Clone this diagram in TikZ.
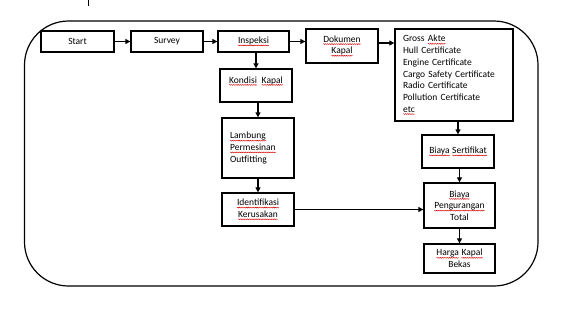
\documentclass[tikz,border=0pt]{standalone}
\usepackage{fontspec}
\setmainfont{Carlito}
\usetikzlibrary{arrows.meta,decorations.pathmorphing}
\newcommand\sq[1]{\tikz[baseline=(w.base),x=1cm,y=1cm,line width=0.4pt]{\node[shape=rectangle,draw=none,inner sep=0pt,outer sep=0pt,minimum width=0pt,minimum height=0pt,text width=,align=none,anchor=center](w){#1};
  \draw[red!85!black,line width=0.4pt,decorate,decoration={snake,amplitude=0.45pt,segment length=1.8pt}] ([yshift=-1.9pt]w.base west) -- ([yshift=-1.9pt]w.base east);}}
\begin{document}
\begin{tikzpicture}[x=1pt,y=-1pt,
  every node/.style={font=\fontsize{9.5}{11.7}\selectfont},
  box/.style={draw, line width=1.3pt, inner sep=0pt, align=center},
  arr/.style={line width=1.3pt, -{Triangle[length=5pt,width=5pt]}}]
\useasboundingbox (0,0) rectangle (567,308);
\draw[line width=0.6pt] (88,0) -- (88,6);
\draw[line width=1.2pt, rounded corners=44pt] (24.5,21) rectangle (538,286);
\node[box, minimum width=73, minimum height=21] (start) at (77.5,41.5) {Start};
\node[box, minimum width=72, minimum height=21] (surv) at (167,41.5) {Survey};
\node[box, minimum width=71, minimum height=21] (insp) at (253.5,41.5) {\sq{Inspeksi}};
\node[box, minimum width=72, minimum height=34] (dok) at (342,46) {\sq{Dokumen}\\\sq{Kapal}};
\node[box, minimum width=118, minimum height=92, align=left, text width=102, inner xsep=8] (gross) at (454,75)
  {Gross \sq{Akte}\\Hull Certificate\\Engine  Certificate\\Cargo Safety  Certificate\\Radio Certificate\\Pollution  Certificate\\\sq{etc}};
\node[box, minimum width=72, minimum height=33] (kond) at (256,85.5) {};
\node (kondt) at (256,81) {\sq{Kondisi}\ \ \sq{Kapal}};
\node[box, minimum width=72, minimum height=60, align=left, text width=56, inner xsep=8] (lamb) at (258,148) {\sq{Lambung}\\\sq{Permesinan}\\Outfitting};
\node[box, minimum width=72, minimum height=33] (ident) at (258,209.5) {\sq{Identifikasi}\\\sq{Kerusakan}};
\node[box, minimum width=72, minimum height=33] (sert) at (458,151.5) {\sq{Biaya} \sq{Sertifikat}};
\node[box, minimum width=71, minimum height=45] (peng) at (459.5,205.5) {\sq{Biaya}\\\sq{Pengurangan}\\Total};
\node[box, minimum width=71, minimum height=29] (harga) at (459.5,258.5) {\sq{Harga} \sq{Kapal}\\Bekas};
\draw[arr] (start) -- (surv);
\draw[arr] (surv) -- (insp);
\draw[arr] (insp) -- (insp -| dok.west);
\draw[arr] ([yshift=3pt]dok.east) -- ([yshift=3pt]dok.east -| gross.west);
\draw[arr] (kond.north |- insp.south) -- (kond.north);
\draw[arr] (lamb.north |- kond.south) -- (lamb.north);
\draw[arr] (lamb) -- (ident);
\draw[arr] (sert.north |- gross.south) -- (sert.north);
\draw[arr] (peng.north |- sert.south) -- (peng.north);
\draw[arr] (peng) -- (harga);
\draw[arr] (ident) -- (ident -| peng.west);
\end{tikzpicture}
\end{document}
